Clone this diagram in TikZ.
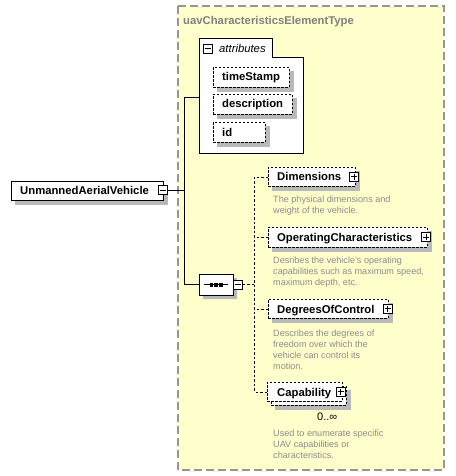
\documentclass[tikz,border=0pt]{standalone}
\usepackage{fontspec}
\setmainfont{Liberation Sans}
\usetikzlibrary{shapes.misc}
\definecolor{ybg}{RGB}{255,255,204}
\definecolor{bordergray}{RGB}{150,150,150}
\definecolor{shgray}{RGB}{185,185,185}
\definecolor{descgray}{RGB}{140,140,140}
\definecolor{titlegray}{RGB}{128,128,128}
\pgfdeclarelayer{bglayer}
\pgfdeclarelayer{shadowlayer}
\pgfsetlayers{bglayer,shadowlayer,main}
\begin{document}
\begin{tikzpicture}[x=1pt,y=-1pt,
  elem/.style={draw, dash pattern=on 2.5pt off 1.5pt, line width=0.8pt, fill=white, inner sep=0pt, anchor=north west},
  solidbox/.style={draw, line width=0.8pt, fill=white, inner sep=0pt, anchor=north west},
  shadowfill/.style={fill=shgray, draw=none},
  elabel/.style={font=\fontsize{11.3}{13}\selectfont\bfseries, inner sep=0pt, anchor=base west},
  desc/.style={font=\fontsize{9.1}{11}\selectfont, text=descgray, align=left, inner sep=0pt, anchor=base west},
  pmbox/.style={draw, fill=white, minimum size=9pt, inner sep=0pt, line width=0.7pt},
  minusbox/.style={pmbox, path picture={\draw[line width=0.7pt] ([xshift=-3pt]path picture bounding box.center) -- ([xshift=3pt]path picture bounding box.center);}},
  plusbox/.style={pmbox, path picture={\draw[line width=0.7pt] ([xshift=-3pt]path picture bounding box.center) -- ([xshift=3pt]path picture bounding box.center) ([yshift=-3pt]path picture bounding box.center) -- ([yshift=3pt]path picture bounding box.center);}},
  seqshape/.style={chamfered rectangle, chamfered rectangle xsep=5pt, chamfered rectangle ysep=5pt, minimum width=34pt, minimum height=21pt, inner sep=0pt},
  conn/.style={draw, line width=0.8pt},
  dconn/.style={draw, line width=0.8pt, dash pattern=on 2.5pt off 2pt}
]
\useasboundingbox (0,0) rectangle (455,476);
% outer type box and attributes container (background)
\begin{pgfonlayer}{bglayer}
\draw[draw=bordergray, line width=1.2pt, dash pattern=on 8pt off 4pt, fill=ybg] (178,6) rectangle (444,470);
\draw[line width=0.8pt, fill=white] (199,153) -- (199,38) -- (272,38) -- (272,57) -- (303,57) -- (303,153) -- cycle;
\end{pgfonlayer}
\node[font=\fontsize{11.3}{13}\selectfont\bfseries, text=titlegray, inner sep=0pt, anchor=base west] (title) at (183,25) {uavCharacteristicsElementType};

% attributes
\node[minusbox] (attrm) at (207.5,48.5) {};
\node[font=\fontsize{11.3}{13}\selectfont\itshape, inner sep=0pt, anchor=base west] (attrt) at (219,53) {attributes};
\node[elem, minimum width=76pt, minimum height=20pt] (ts) at (213,67) {};
\node[elabel] (tst) at (222,81) {timeStamp};
\node[elem, minimum width=79pt, minimum height=20pt] (de) at (213,94) {};
\node[elabel] (det) at (222,108) {description};
\node[elem, minimum width=52pt, minimum height=20pt] (id) at (213,122) {};
\node[elabel] (idt) at (222,136) {id};

% root element
\node[solidbox, minimum width=152pt, minimum height=19pt] (uav) at (11,181) {};
\node[elabel] (uavt) at (20,194.5) {UnmannedAerialVehicle};
\node[minusbox] (uavm) at (162.5,190) {};

% sequence
\node[seqshape, draw, line width=0.8pt, fill=white] (seq) at (216,284.5) {};
\draw[line width=0.8pt] (204,284.5) -- (228,284.5);
\fill (209.5,283) rectangle ++(3.5,3.5);
\fill (214.3,283) rectangle ++(3.5,3.5);
\fill (219.1,283) rectangle ++(3.5,3.5);
\node[minusbox] (seqm) at (238,284.5) {};

% solid connectors
\coordinate (jt) at (184,97);
\coordinate (jb) at (184,284.5);
\coordinate (attrin) at (199,97);
\draw[conn] (uavm.east) -- (uavm.east -| jt);
\draw[conn] (attrin) -- (jt) -- (jb) -- (seq.west);

% child elements
\node[elem, minimum width=87pt, minimum height=19pt] (dim) at (268,167) {};
\node[elabel] (dimt) at (277,180.5) {Dimensions};
\node[plusbox] (dimp) at (354,176.5) {};
\node[desc] (dimd) at (273,213) {The physical dimensions and\\weight of the vehicle.};

\node[elem, minimum width=159pt, minimum height=20pt] (opc) at (268,227) {};
\node[elabel] (opct) at (277,241) {OperatingCharacteristics};
\node[plusbox] (opcp) at (426,237) {};
\node[desc] (opcd) at (273,285) {Desribes the vehicle's operating\\capabilities such as maximum speed,\\maximum depth, etc.};

\node[elem, minimum width=120pt, minimum height=19pt] (doc) at (268,299) {};
\node[elabel] (doct) at (277,313) {DegreesOfControl};
\node[plusbox] (docp) at (387.5,308.5) {};
\node[desc] (docd) at (273,369) {Describes the degrees of\\freedom over which the\\vehicle can control its\\motion.};

\node[elem, minimum width=75pt, minimum height=19pt] (capb) at (271,386) {};
\node[elem, minimum width=75pt, minimum height=19pt] (cap) at (267,382) {};
\node[elabel] (capt) at (277,396) {Capability};
\node[plusbox] (capp) at (340.5,391.5) {};
\node[font=\fontsize{11}{13}\selectfont, inner sep=0pt, anchor=base west] (capo) at (317,420) {0..∞};
\node[desc] (capd) at (273,458) {Used to enumerate specific\\UAV capabilities or\\characteristics.};

% dashed connectors
\coordinate (dt) at (254,176.5);
\coordinate (db) at (254,391.5);
\draw[dconn] (seqm.east) -- (seqm.east -| dt);
\draw[dconn] (dt) -- (db);
\draw[dconn] (dim.west) -- (dim.west -| dt);
\draw[dconn] (opc.west) -- (opc.west -| dt);
\draw[dconn] (doc.west) -- (doc.west -| dt);
\draw[dconn] (cap.west) -- (cap.west -| dt);

% drop shadows
\begin{pgfonlayer}{shadowlayer}
\foreach \n in {ts,de,id,uav,dim,opc,doc,capb}{
  \fill[shadowfill] ([shift={(4,4)}]\n.north west) rectangle ([shift={(4,4)}]\n.south east);
}
\node[seqshape, shadowfill] (seqsh) at ([shift={(4,4)}]seq.center) {};
\end{pgfonlayer}
\end{tikzpicture}
\end{document}
